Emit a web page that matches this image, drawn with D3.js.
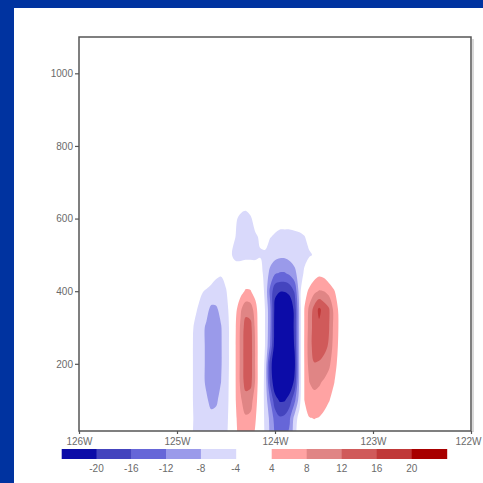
<!DOCTYPE html>
<html>
<head>
<meta charset="utf-8">
<script src="https://cdn.jsdelivr.net/npm/d3@7"></script>
<style>
  html, body { margin: 0; padding: 0; background: #0033a0; }
  svg { display: block; }
  text { font-family: 'Liberation Sans Narrow', 'Liberation Sans', Arial, sans-serif; fill: #6a6a6a; }
</style>
</head>
<body>
<svg id="chart"></svg>
<script>
(function () {

  var width = 483, height = 483;

  // grid longitudes (deg W) and heights of the field
  var lons = [124.95, 124.90, 124.85, 124.80, 124.75, 124.70, 124.65, 124.60, 124.55, 124.50,
              124.45, 124.40, 124.35, 124.30, 124.25, 124.20, 124.15, 124.10, 124.05, 124.00,
              123.95, 123.90, 123.85, 123.80, 123.75, 123.70, 123.65, 123.60, 123.55, 123.50,
              123.45, 123.40, 123.35, 123.30, 123.25];
  var heights = [0, 50, 100, 150, 200, 250, 300, 350, 400, 450, 500, 550, 600, 650];

  // field values, one row per height
  var field = [
    [0, -1.5, -3.5, -5, -6, -6.5, -6.5, -6.5, -5.5, -4.5, -2.5, 3, 5.5, 6.5, 6, 3, -1, -4.5, -8.5, -12.5, -13.5, -13, -11, -5, -1.5, 0, 1.5, 2, 1.5, 0.5, 0, 0, 0, 0, 0],
    [0, -1.5, -3.5, -5, -6, -6.8, -7.2, -7, -6, -4.8, -2.8, 3.5, 6.5, 7.5, 7.2, 4.5, -0.5, -5, -9, -13.5, -15.5, -15, -12.5, -6.5, -2, 3, 3.8, 4.1, 3.8, 3, 1.5, 0.5, 0, 0, 0],
    [0, -1.5, -3.5, -5.5, -7, -7.6, -8.8, -8.5, -7, -5, -3, 4, 7.5, 10, 9.5, 6, 0, -5.5, -12, -18.5, -20.5, -20.3, -18, -13, -6, 4, 6.5, 7, 6.5, 5.5, 4.3, 2.5, 0.5, 0, 0],
    [0, -1.5, -3.5, -5.5, -7, -8.5, -10, -10, -8, -5.2, -3, 4.2, 9, 14, 13.5, 7.5, 0, -5.5, -17, -23, -25, -25, -23.5, -19, -7, 4.2, 8, 8.8, 8.5, 7.5, 6, 4.3, 2, 0, 0],
    [0, -1.5, -3.5, -5.5, -7, -8.5, -10.5, -10.5, -8.3, -5.5, -3, 4.2, 9, 14.5, 14, 7.5, 0, -5, -18, -24, -26, -26, -25, -21, -7, 4.3, 9.5, 11.8, 11.5, 10.5, 9, 5.5, 3, 0.5, 0],
    [0, -1.5, -3.5, -5.5, -7, -8.5, -10.5, -10.5, -8.3, -5.5, -3, 4.2, 9, 14.5, 14, 7.5, 0, -4.2, -12, -22.5, -26, -26, -24.5, -19.5, -7, 4.5, 10, 14, 14.5, 13.5, 11.5, 6.5, 3.5, 0.5, 0],
    [0, -1.2, -3.3, -5.3, -7, -8.5, -10, -10, -8.2, -5.5, -3, 4, 8.8, 14, 13.5, 7, 0, -4.2, -11, -22, -26, -26, -24, -19, -7, 4.3, 9.5, 14, 15.3, 14, 12.3, 7, 3.8, 0.5, 0],
    [0, -0.5, -2.5, -3.8, -5.5, -7, -8.8, -8.5, -7, -5, -2.8, 3, 7.5, 10.5, 10, 6, 0, -4.2, -11, -21.5, -25, -25, -23, -19, -7, 4.2, 9, 13.5, 16.8, 14.5, 12.5, 7, 3.5, 0, 0],
    [0, 0, -1, -2.5, -3.6, -4.5, -5.5, -6, -6, -4.2, -2.5, 1.5, 2.5, 4.5, 4.3, 2, -1, -5, -13, -19, -19.8, -19.8, -19, -15.5, -6, 2, 5, 7, 8.3, 8, 6.5, 4.5, 2, 0, 0],
    [0, 0, 0, 0, 0, -0.5, -1.5, -3, -3.5, -3, -2, -2, -1, 0, 0, -1.5, -2.5, -5.5, -9, -11.5, -12.2, -12.2, -11, -9, -6, -3.5, 0, 2, 3, 2.5, 1, 0, 0, 0, 0],
    [0, 0, 0, 0, 0, 0, 0, 0, -1, -2, -3.7, -5, -5.5, -5.5, -5.5, -5, -4.3, -4.4, -6, -6.5, -7, -7, -6.5, -6, -5.5, -5, -4.5, -3.6, -1, 0, 0, 0, 0, 0, 0],
    [0, 0, 0, 0, 0, 0, 0, 0, 0, -1, -2.5, -4.1, -5.5, -6, -5.5, -4.5, -3.5, -3, -3.8, -4.5, -5, -5, -5, -5, -5, -4.2, -2.5, -1, 0, 0, 0, 0, 0, 0, 0],
    [0, 0, 0, 0, 0, 0, 0, 0, 0, 0, -1, -3.5, -5, -5.5, -4.5, -2.5, -1, -1, -1.5, -2, -2.5, -2.5, -2.5, -2, -1, 0, 0, 0, 0, 0, 0, 0, 0, 0, 0],
    [0, 0, 0, 0, 0, 0, 0, 0, 0, 0, 0, -1, -1.5, -2, -1.5, -0.5, 0, 0, 0, 0, 0, 0, 0, 0, 0, 0, 0, 0, 0, 0, 0, 0, 0, 0, 0]
  ];

  var xTicks = [126, 125, 124, 123, 122];
  var xTickLabels = ['126W', '125W', '124W', '123W', '122W'];
  var yTicks = [200, 400, 600, 800, 1000];

  // shading levels and colours (colour bar order, left to right)
  var blueLevels = [-20, -16, -12, -8, -4];
  var blueColors = ['#0c0ca8', '#4444be', '#6666d8', '#9a9aea', '#d9d9fb'];
  var redLevels = [4, 8, 12, 16, 20];
  var redColors = ['#ffa3a3', '#e08585', '#d05a5a', '#c03838', '#a80000'];

  var svg = d3.select('#chart')
    .attr('width', width)
    .attr('height', height);

  // slide background + white panel
  svg.append('rect').attr('width', width).attr('height', height).attr('fill', '#0033a0');
  svg.append('rect').attr('x', 14).attr('y', 8)
    .attr('width', width - 14).attr('height', height - 8).attr('fill', '#fff');

  var plot = { left: 79, right: 471, top: 37, bottom: 431 };
  var x = d3.scaleLinear().domain([126, 122]).range([plot.left, plot.right]);
  var y = d3.scaleLinear().domain([15, 1100]).range([plot.bottom, plot.top]);

  // d3.contours puts grid value i at coordinate i + 0.5
  var nx = lons.length, ny = heights.length;
  var gx = d3.scaleLinear().domain([0.5, nx - 0.5]).range([lons[0], lons[nx - 1]]);
  var gy = d3.scaleLinear().domain([0.5, ny - 0.5]).range([heights[0], heights[ny - 1]]);

  var values = [];
  field.forEach(function (row) { row.forEach(function (v) { values.push(v); }); });
  var negValues = values.map(function (v) { return -v; });

  var line = d3.line().curve(d3.curveCatmullRomClosed.alpha(0.5));

  function ringPath(ring) {
    var pts = ring.slice(0, -1).map(function (p) { return [x(gx(p[0])), y(gy(p[1]))]; });
    return line(pts);
  }
  function multiPath(geom) {
    return geom.coordinates.map(function (poly) { return poly.map(ringPath).join(''); }).join('');
  }

  svg.append('clipPath').attr('id', 'plot-clip')
    .append('rect')
    .attr('x', plot.left).attr('y', plot.top)
    .attr('width', plot.right - plot.left).attr('height', plot.bottom - plot.top);

  var g = svg.append('g').attr('clip-path', 'url(#plot-clip)');

  // negative shading: -4 first, darkest last
  var negThresholds = blueLevels.map(function (v) { return -v; }).reverse();
  var negColors = blueColors.slice().reverse();
  g.selectAll('.neg')
    .data(d3.contours().size([nx, ny]).thresholds(negThresholds)(negValues))
    .join('path')
    .attr('class', 'neg')
    .attr('d', multiPath)
    .attr('fill-rule', 'evenodd')
    .attr('fill', function (d, i) { return negColors[i]; });

  g.selectAll('.pos')
    .data(d3.contours().size([nx, ny]).thresholds(redLevels)(values))
    .join('path')
    .attr('class', 'pos')
    .attr('d', multiPath)
    .attr('fill-rule', 'evenodd')
    .attr('fill', function (d, i) { return redColors[i]; });

  // frame
  svg.append('path')
    .attr('d', 'M' + (plot.right + 2) + ',' + (plot.top + 2) + 'V' + (plot.bottom + 1))
    .attr('stroke', '#ccc').attr('stroke-width', 1.5);
  svg.append('rect')
    .attr('x', plot.left).attr('y', plot.top)
    .attr('width', plot.right - plot.left).attr('height', plot.bottom - plot.top)
    .attr('fill', 'none').attr('stroke', '#555').attr('stroke-width', 1.5);

  // axes
  var xAxis = svg.append('g')
    .attr('transform', 'translate(0,' + plot.bottom + ')')
    .call(d3.axisBottom(x).tickValues(xTicks)
      .tickFormat(function (d, i) { return xTickLabels[i]; })
      .tickSize(3).tickPadding(4));
  var yAxis = svg.append('g')
    .attr('transform', 'translate(' + plot.left + ',0)')
    .call(d3.axisLeft(y).tickValues(yTicks).tickFormat(d3.format('d'))
      .tickSize(4).tickPadding(2));

  [xAxis, yAxis].forEach(function (ax) {
    ax.select('.domain').remove();
    ax.selectAll('line').attr('stroke', '#555').attr('stroke-width', 1.2);
    ax.selectAll('text').attr('font-size', 10);
  });

  // last longitude label sits on the page edge: keep it inside
  xAxis.selectAll('.tick').filter(function (d) { return d === xTicks[xTicks.length - 1]; })
    .select('text')
    .attr('text-anchor', 'end')
    .attr('x', width - plot.right - 2);

  // colour bars
  var barY = 449, barH = 10;
  var blueBand = d3.scaleBand().domain(d3.range(blueColors.length)).range([61.7, 235.7]);
  var redBand = d3.scaleBand().domain(d3.range(redColors.length)).range([271.7, 446.7]);

  svg.selectAll('.cb-blue').data(blueColors).join('rect')
    .attr('class', 'cb-blue')
    .attr('x', function (d, i) { return blueBand(i); })
    .attr('y', barY).attr('width', blueBand.bandwidth() + 0.5).attr('height', barH)
    .attr('fill', function (d) { return d; });
  svg.selectAll('.cb-red').data(redColors).join('rect')
    .attr('class', 'cb-red')
    .attr('x', function (d, i) { return redBand(i); })
    .attr('y', barY).attr('width', redBand.bandwidth() + 0.5).attr('height', barH)
    .attr('fill', function (d) { return d; });

  svg.selectAll('.cb-blue-lab').data(blueLevels).join('text')
    .attr('class', 'cb-blue-lab')
    .attr('x', function (d, i) { return blueBand(i) + blueBand.bandwidth(); })
    .attr('y', 472).attr('text-anchor', 'middle').attr('font-size', 10)
    .text(function (d) { return String(d); });
  svg.selectAll('.cb-red-lab').data(redLevels).join('text')
    .attr('class', 'cb-red-lab')
    .attr('x', function (d, i) { return redBand(i); })
    .attr('y', 472).attr('text-anchor', 'middle').attr('font-size', 10)
    .text(function (d) { return String(d); });

})();
</script>
</body>
</html>
